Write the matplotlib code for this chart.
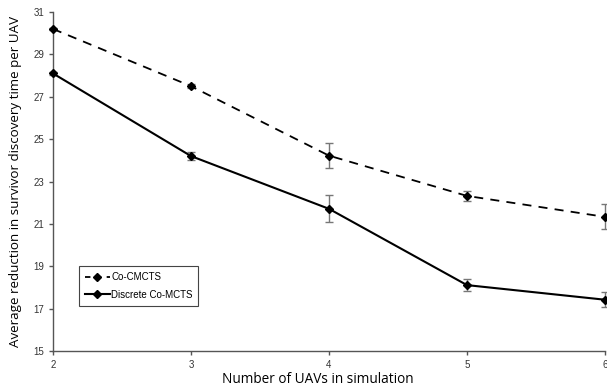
import matplotlib
matplotlib.use("Agg")
import matplotlib.pyplot as plt
from matplotlib.lines import Line2D

uavs = [2, 3, 4, 5, 6]
co_cmcts = [30.2, 27.5, 24.22, 22.32, 21.33]
co_cmcts_err = [0.05, 0.08, 0.58, 0.24, 0.59]
discrete = [28.1, 24.2, 21.71, 18.11, 17.42]
discrete_err = [0.05, 0.2, 0.64, 0.3, 0.35]
yticks = [15, 17, 19, 21, 23, 25, 27, 29, 31]

fig = plt.figure(figsize=(6.07, 3.89), dpi=100)
ax = fig.add_axes([53/607, 1-351/389, 552/607, 339/389])

for vals, errs, ls, lw, lab in [(co_cmcts, co_cmcts_err, (0, (5, 4)), 1.3, 'Co-CMCTS'),
                                (discrete, discrete_err, '-', 1.5, 'Discrete Co-MCTS')]:
    ax.errorbar(uavs, vals, yerr=errs, fmt='none', ecolor='#777777', elinewidth=1,
                capsize=3, capthick=1, clip_on=False, zorder=2)
    ax.plot(uavs, vals, color='black', ls=ls, lw=lw, marker='D', ms=4.5,
            label=lab, clip_on=False, zorder=3)

ax.set_xlim(2, 6)
ax.set_ylim(15, 31)
ax.set_xticks(uavs)
ax.set_yticks(yticks)
for s in ['top', 'right']:
    ax.spines[s].set_visible(False)
for s in ['left', 'bottom']:
    ax.spines[s].set_color('#555555')
    ax.spines[s].set_linewidth(1)
ax.tick_params(axis='both', colors='#555555', labelcolor='#333333', labelsize=7, length=3, width=1)
for lab in ax.get_xticklabels() + ax.get_yticklabels():
    lab.set_family('Liberation Sans')

ax.set_xlabel('Number of UAVs in simulation', family='Open Sans', fontsize=9.8)
ax.xaxis.set_label_coords(0.48, -0.063)
ax.set_ylabel('Average reduction in survivor discovery time per UAV', family='Open Sans', fontsize=9.6, labelpad=8)

handles = [Line2D([], [], color='black', ls=(0, (3, 3)), lw=1.3, marker='D', ms=4.5),
           Line2D([], [], color='black', ls='-', lw=1.5, marker='D', ms=4.5)]
leg = ax.legend(handles, ['Co-CMCTS', 'Discrete Co-MCTS'],
                loc='lower left', bbox_to_anchor=(0.047, 0.134), borderaxespad=0,
                prop={'family': 'Liberation Sans', 'size': 7},
                fancybox=False, edgecolor='#444444', handlelength=2.6, handletextpad=0.1,
                borderpad=0.6, labelspacing=0.8, framealpha=1)
leg.get_frame().set_linewidth(0.8)

fig.savefig('out.png', dpi=100)
